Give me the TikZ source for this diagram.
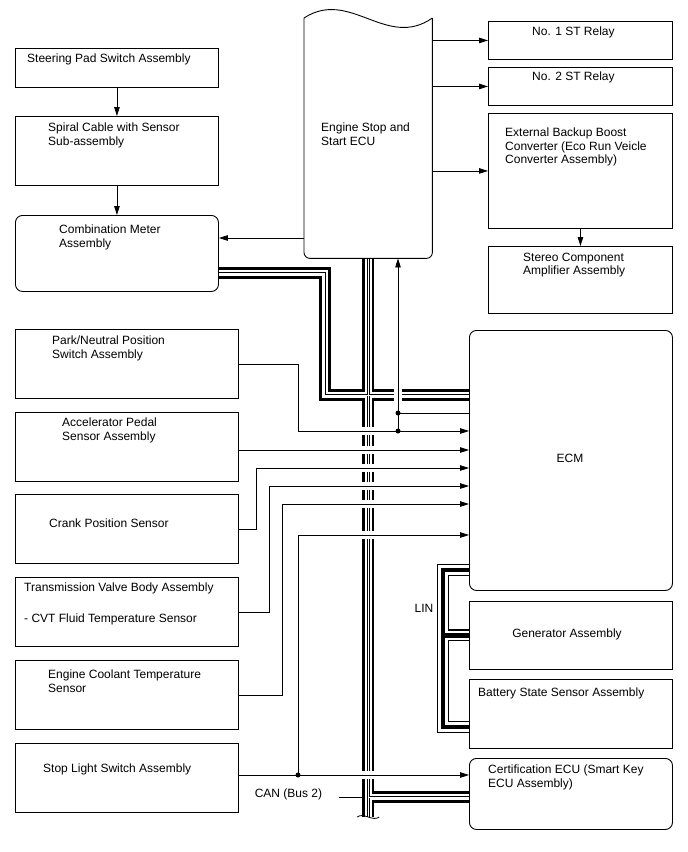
\documentclass[tikz,border=0pt]{standalone}
\usepackage{fontspec}
\setmainfont{Liberation Sans}
\usetikzlibrary{arrows.meta, calc, positioning}
\pgfdeclarelayer{back}
\pgfsetlayers{back,main}

% bus lines drawn as stacked strokes
\newcommand{\canbus}[1]{%
  \draw[line width=12pt] #1;
  \draw[white, line width=6.8pt] #1;
  \draw[line width=2.6pt] #1;
  \draw[white, line width=1pt] #1;}
\newcommand{\linbus}[1]{%
  \draw[line width=12pt] #1;
  \draw[white, line width=9.4pt] #1;
  \draw[line width=4.2pt] #1;}

\begin{document}
\begin{tikzpicture}[
  x=1pt, y=-1pt,
  font=\fontsize{12}{13.5}\selectfont,
  blk/.style={
    draw,
    line width=0.9pt,
    fill=white,
    anchor=north west,
    inner sep=0pt
  },
  rblk/.style={
    blk,
    rounded corners=7pt
  },
  lbl/.style={
    anchor=north west,
    inner sep=0pt,
    align=left
  },
  sig/.style={
    -{Triangle[length=9pt,width=5.5pt]},
    line width=0.8pt
  },
  wire/.style={
    line width=0.8pt
  }
]

\useasboundingbox (0,0) rectangle (688,852);

% left column
\node[blk, minimum width=203pt, minimum height=39pt] (sps) at (15,48) {};
\node[lbl] (spsT) at ($(sps.north west)+(12,5.7)$) {Steering Pad Switch Assembly};

\node[blk, minimum width=203pt, minimum height=69pt] (spc) at (15,116) {};
\node[lbl] (spcT) at ($(spc.north west)+(33,6.7)$) {Spiral Cable with Sensor\\Sub-assembly};

\node[rblk, minimum width=203pt, minimum height=76pt] (cmb) at (15,215) {};
\node[lbl] (cmbT) at ($(cmb.north west)+(44,9.7)$) {Combination Meter\\Assembly};

\node[blk, minimum width=223pt, minimum height=69pt] (pns) at (15,329) {};
\node[lbl] (pnsT) at ($(pns.north west)+(37,6.7)$) {Park/Neutral Position\\Switch Assembly};

\node[blk, minimum width=223pt, minimum height=69pt] (acc) at (15,412) {};
\node[lbl] (accT) at ($(acc.north west)+(47,5.7)$) {Accelerator Pedal\\Sensor Assembly};

\node[blk, minimum width=223pt, minimum height=69pt] (crk) at (15,494) {};
\node[lbl] (crkT) at ($(crk.north west)+(34,24.7)$) {Crank Position Sensor};

\node[blk, minimum width=223pt, minimum height=69pt] (tvb) at (15,577) {};
\node[lbl] (tvbT) at ($(tvb.north west)+(9,5.7)$) {Transmission Valve Body Assembly\\[17.5pt]- CVT Fluid Temperature Sensor};

\node[blk, minimum width=223pt, minimum height=69pt] (ect) at (15,660) {};
\node[lbl] (ectT) at ($(ect.north west)+(33,9.7)$) {Engine Coolant Temperature\\Sensor};

\node[blk, minimum width=223pt, minimum height=69pt] (stp) at (15,743) {};
\node[lbl] (stpT) at ($(stp.north west)+(28,20.7)$) {Stop Light Switch Assembly};

% engine stop and start ECU
\node[anchor=north west, inner sep=0pt, minimum width=128pt, minimum height=240pt] (ecu) at (304,18) {};
\draw[line width=0.9pt] (ecu.north west) .. controls +(46,-30) and +(-46,32) .. (ecu.north east);
\draw[line width=0.9pt, rounded corners=6pt] (ecu.north east) -- (ecu.south east) -- (ecu.south west) -- (ecu.north west);
\node[lbl] (ecuT) at ($(ecu.north west)+(17,104.7)$) {Engine Stop and\\Start ECU};

% right column
\node[blk, minimum width=184pt, minimum height=38pt] (st1) at (488,21) {};
\node[lbl] (st1T) at ($(st1.north west)+(44,5.7)$) {No. 1 ST Relay};

\node[blk, minimum width=184pt, minimum height=38pt] (st2) at (488,67) {};
\node[lbl] (st2T) at ($(st2.north west)+(44,4.7)$) {No. 2 ST Relay};

\node[blk, minimum width=184pt, minimum height=115pt] (ext) at (488,113) {};
\node[lbl] (extT) at ($(ext.north west)+(17,14.7)$) {External Backup Boost\\Converter (Eco Run Veicle\\Converter Assembly)};

\node[blk, minimum width=184pt, minimum height=67pt] (amp) at (488,246) {};
\node[lbl] (ampT) at ($(amp.north west)+(35,6.7)$) {Stereo Component\\Amplifier Assembly};

\node[rblk, minimum width=203pt, minimum height=260pt] (ecm) at (469,330) {};
\node (ecmT) at (570,458) {ECM};

\node[blk, minimum width=203pt, minimum height=68pt] (gen) at (469,601) {};
\node (genT) at (567,634) {Generator Assembly};

\node[blk, minimum width=203pt, minimum height=69pt] (bat) at (469,679) {};
\node[lbl] (batT) at ($(bat.north west)+(9,8.7)$) {Battery State Sensor Assembly};

\node[rblk, minimum width=203pt, minimum height=71pt] (crt) at (469,758) {};
\node[lbl] (crtT) at ($(crt.north west)+(19,6.7)$) {Certification ECU (Smart Key\\ECU Assembly)};

\node (linT) at (424,608) {LIN};
\node (canT) at (288.5,794) {CAN (Bus 2)};

% pins and junctions
\coordinate (inPN) at (ecm.west |- 0,431);
\coordinate (inAC) at (ecm.west |- 0,450);
\coordinate (inCK) at (ecm.west |- 0,468);
\coordinate (inTV) at (ecm.west |- 0,486);
\coordinate (inEC) at (ecm.west |- 0,504);
\coordinate (inSL) at (ecm.west |- 0,535);
\coordinate (inCT) at (crt.west |- 0,775);
\coordinate (jPN) at (398,431);
\coordinate (jEC) at (398,413);
\coordinate (jSL) at (298,775);

\coordinate (canEnd) at (ecu.south |- 0,817);
\coordinate (canCT) at (crt.west |- 0,797);
\coordinate (canM) at (cmb.east |- 0,273);
\coordinate (canE) at (ecm.west |- 0,395);

\coordinate (linE) at (ecm.west |- 0,570);
\coordinate (linV) at ($(linE)+(-26,0)$);
\coordinate (linB) at (bat.west |- 0,727);

\begin{pgfonlayer}{back}
\fill[white] (0,0) rectangle (688,852);

\canbus{(ecu.south) -- (canEnd) (canEnd |- canCT) -- (canCT) (canM) -- ++(106,0) |- (canE)}
\foreach \c in {inPN,inAC,inCK,inTV,inEC,inSL,inCT}
  \fill[white] ($(ecu.south |- \c)+(-8,-4)$) rectangle ($(ecu.south |- \c)+(8,4)$);
\fill[white] ($(jPN |- canE)+(-4,-8)$) rectangle ($(jPN |- canE)+(4,8)$);
\draw[wire] ($(canEnd)+(-11,0)$) .. controls +(6,-5) and +(-6,5) .. ($(canEnd)+(11,0)$);
\draw[wire] ($(canT.east)+(13,3)$) -- ($(ecu.south |- canCT)+(-4,0)$);

\linbus{(linE) -- (linV) |- (linB) (linV |- gen.west) -- (gen.west)}

\draw[sig] (sps.south) -- (spc.north);
\draw[sig] (spc.south) -- (cmb.north);
\draw[sig] (ecu.west |- 0,238) -- (cmb.east |- 0,238);
\draw[sig] (ecu.east |- st1.west) -- (st1.west);
\draw[sig] (ecu.east |- st2.west) -- (st2.west);
\draw[sig] (ecu.east |- ext.west) -- (ext.west);
\draw[sig] (ext.south) -- (amp.north);

\draw[sig] (jPN) -- (jPN |- ecu.south);
\draw[sig] (pns.east) -- ++(59,0) |- (inPN);
\draw[wire] (jEC) -- (jEC -| ecm.west);
\draw[sig] (acc.east |- inAC) -- (inAC);
\draw[sig] (crk.east) -- ++(17,0) |- (inCK);
\draw[sig] (tvb.east) -- ++(30,0) |- (inTV);
\draw[sig] (ect.east) -- ++(43,0) |- (inEC);
\draw[sig] (stp.east |- inCT) -- (inCT);
\draw[sig] (jSL) |- (inSL);
\fill (jPN) circle (2.5pt) (jEC) circle (2.5pt) (jSL) circle (2.5pt);
\end{pgfonlayer}

\end{tikzpicture}
\end{document}
